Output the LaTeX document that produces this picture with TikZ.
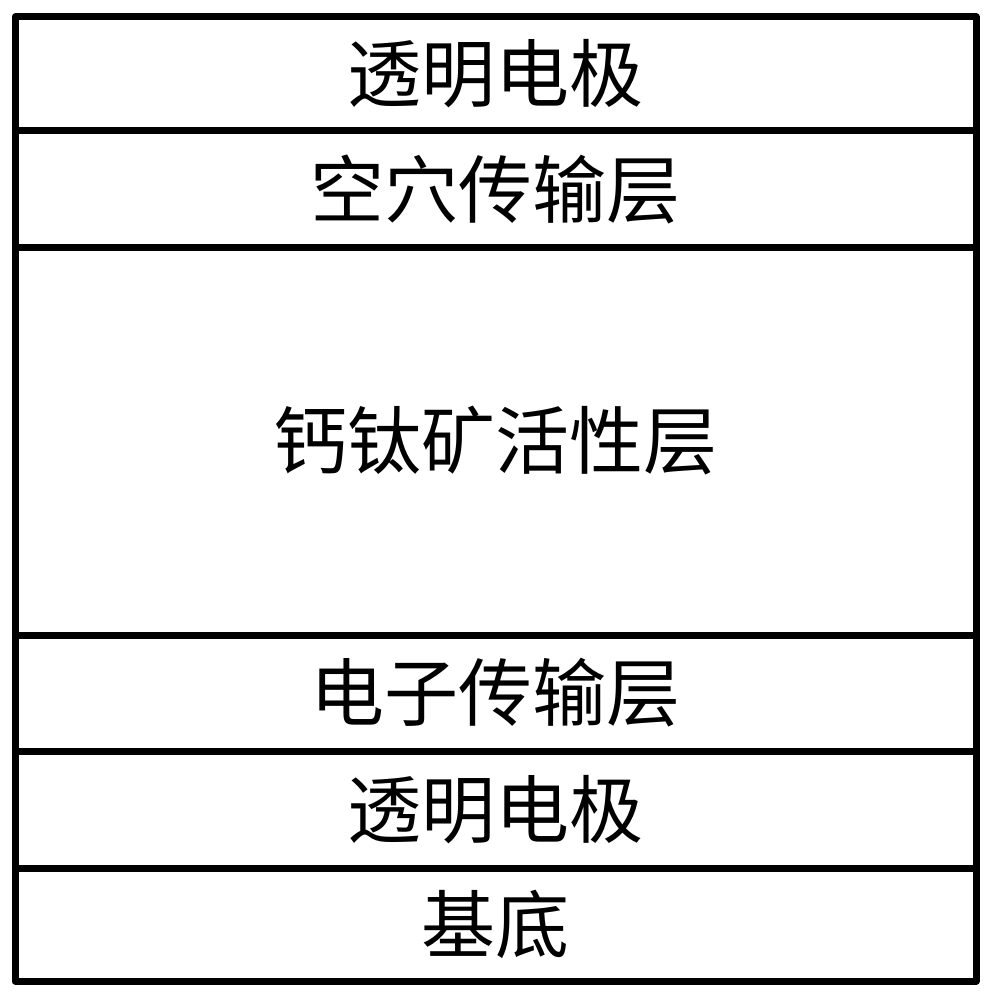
\documentclass[tikz,border=0pt]{standalone}
\usepackage{fontspec}
\newfontfamily\cjk{Noto Sans CJK SC}
\begin{document}
\begin{tikzpicture}[x=1pt,y=-1pt,
  layer/.style={draw=black, line width=7pt, line join=round, rectangle, inner sep=0pt,
    minimum width=961pt, font=\cjk\fontsize{74pt}{80pt}\selectfont, text=black}]
\useasboundingbox (0,0) rectangle (994,1000);
\node[layer, minimum height=114pt] (te1) at (495.5,74) {透明电极};
\node[layer, minimum height=116pt] (htl) at (495.5,189) {空穴传输层};
\node[layer, minimum height=388pt] (pvk) at (495.5,441) {钙钛矿活性层};
\node[layer, minimum height=116pt] (etl) at (495.5,693) {电子传输层};
\node[layer, minimum height=117pt] (te2) at (495.5,809.5) {透明电极};
\node[layer, minimum height=113pt] (sub) at (495.5,924.5) {基底};
\end{tikzpicture}
\end{document}
